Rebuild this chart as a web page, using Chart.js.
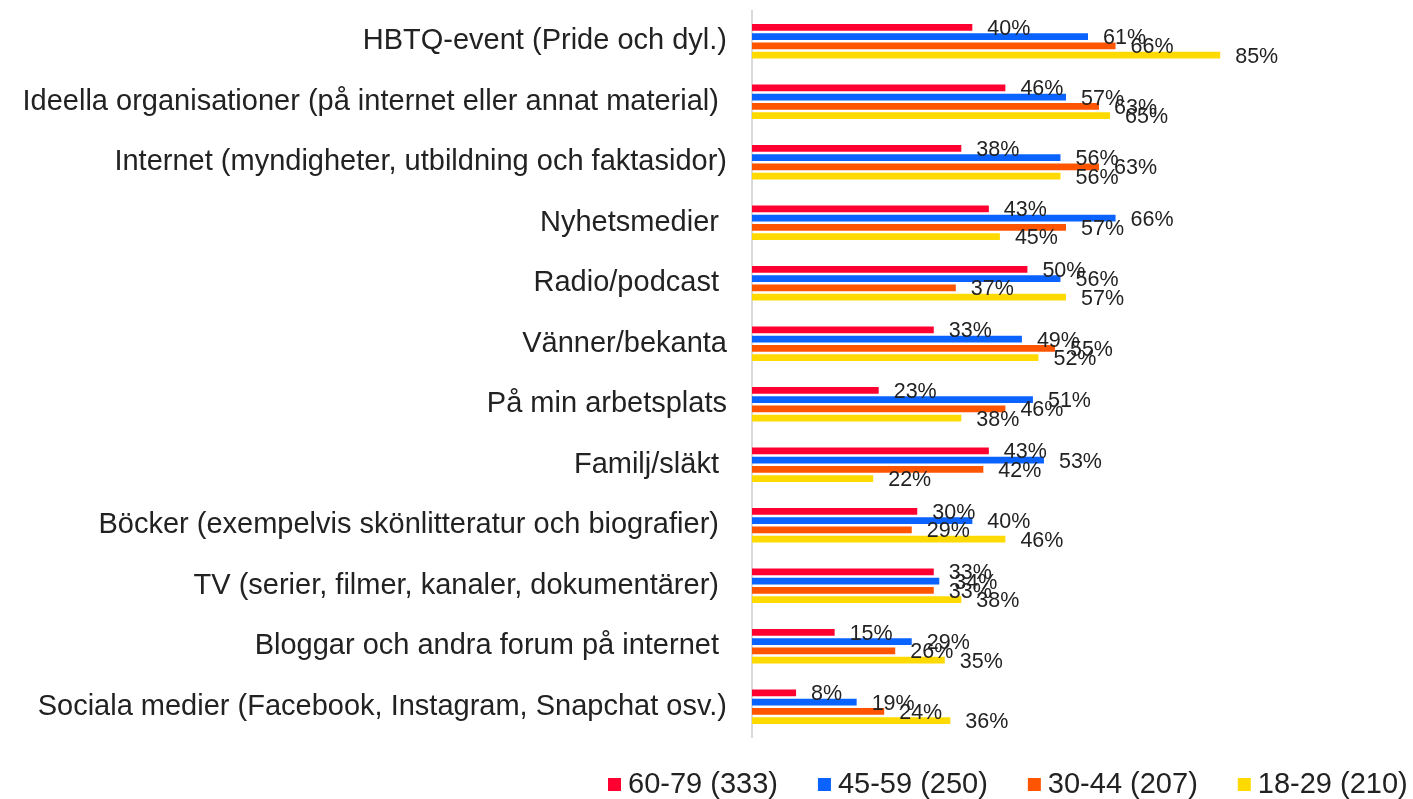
<!DOCTYPE html>
<html>
<head>
<meta charset="utf-8">
<script src="https://cdn.jsdelivr.net/npm/chart.js@4"></script>
<style>
  html, body { margin: 0; padding: 0; background: #fff; }
  #wrap { width: 1413px; height: 799px; }
</style>
</head>
<body>
<div id="wrap"><canvas id="myChart" width="1413" height="799"></canvas></div>
<script>
const categories = [
  'HBTQ-event (Pride och dyl.)',
  'Ideella organisationer (på internet eller annat material) ',
  'Internet (myndigheter, utbildning och faktasidor)',
  'Nyhetsmedier ',
  'Radio/podcast ',
  'Vänner/bekanta',
  'På min arbetsplats',
  'Familj/släkt ',
  'Böcker (exempelvis skönlitteratur och biografier) ',
  'TV (serier, filmer, kanaler, dokumentärer) ',
  'Bloggar och andra forum på internet ',
  'Sociala medier (Facebook, Instagram, Snapchat osv.)'
];
const seriesNames = ['60-79 (333)', '45-59 (250)', '30-44 (207)', '18-29 (210)'];
const age6079 = [40, 46, 38, 43, 50, 33, 23, 43, 30, 33, 15, 8];
const age4559 = [61, 57, 56, 66, 56, 49, 51, 53, 40, 34, 29, 19];
const age3044 = [66, 63, 63, 57, 37, 55, 46, 42, 29, 33, 26, 24];
const age1829 = [85, 65, 56, 45, 57, 52, 38, 22, 46, 38, 35, 36];
const colors = ['#ff0030', '#0a62ff', '#ff5500', '#ffda00'];

const textColor = '#222222';
const fontFam = "'Liberation Sans', Arial, sans-serif";

// value labels next to each bar
const barLabels = {
  id: 'barLabels',
  afterDatasetsDraw(chart) {
    const ctx = chart.ctx;
    ctx.save();
    ctx.font = '21.5px ' + fontFam;
    ctx.fillStyle = textColor;
    ctx.textAlign = 'left';
    ctx.textBaseline = 'middle';
    chart.data.datasets.forEach((ds, i) => {
      chart.getDatasetMeta(i).data.forEach((bar, j) => {
        ctx.fillText(ds.data[j] + '%', bar.x + 15, bar.y + 1.5);
      });
    });
    ctx.restore();
  }
};

// legend at the bottom right
const bottomLegend = {
  id: 'bottomLegend',
  afterDraw(chart) {
    const ctx = chart.ctx;
    ctx.save();
    ctx.font = '29px ' + fontFam;
    ctx.textBaseline = 'middle';
    ctx.textAlign = 'left';
    let x = 608;
    const y = 784;
    chart.data.datasets.forEach(ds => {
      ctx.fillStyle = ds.backgroundColor;
      ctx.fillRect(x, y - 6, 13, 13);
      ctx.fillStyle = textColor;
      ctx.fillText(ds.label, x + 20, y + 1);
      x += 20 + ctx.measureText(ds.label).width + 40;
    });
    ctx.restore();
  }
};

new Chart(document.getElementById('myChart'), {
  type: 'bar',
  data: {
    labels: categories,
    datasets: [age6079, age4559, age3044, age1829].map((d, i) => ({
      label: seriesNames[i],
      data: d,
      backgroundColor: colors[i],
      categoryPercentage: 0.61,
      barPercentage: 0.75
    }))
  },
  options: {
    indexAxis: 'y',
    responsive: false,
    animation: false,
    layout: { padding: { top: 11, bottom: 62, left: 0, right: 0 } },
    plugins: {
      legend: { display: false },
      tooltip: { enabled: false }
    },
    scales: {
      x: {
        display: false,
        min: 0,
        max: 120
      },
      y: {
        afterFit: (s) => {
          s.width = 752;
          s.paddingTop = 0;
          s.paddingBottom = 0;
        },
        grid: { display: false, drawTicks: false },
        border: { display: true, color: '#d9d9d9', width: 2 },
        ticks: {
          color: textColor,
          padding: 25,
          font: { size: 29, family: fontFam }
        }
      }
    }
  },
  plugins: [barLabels, bottomLegend]
});
</script>
</body>
</html>
